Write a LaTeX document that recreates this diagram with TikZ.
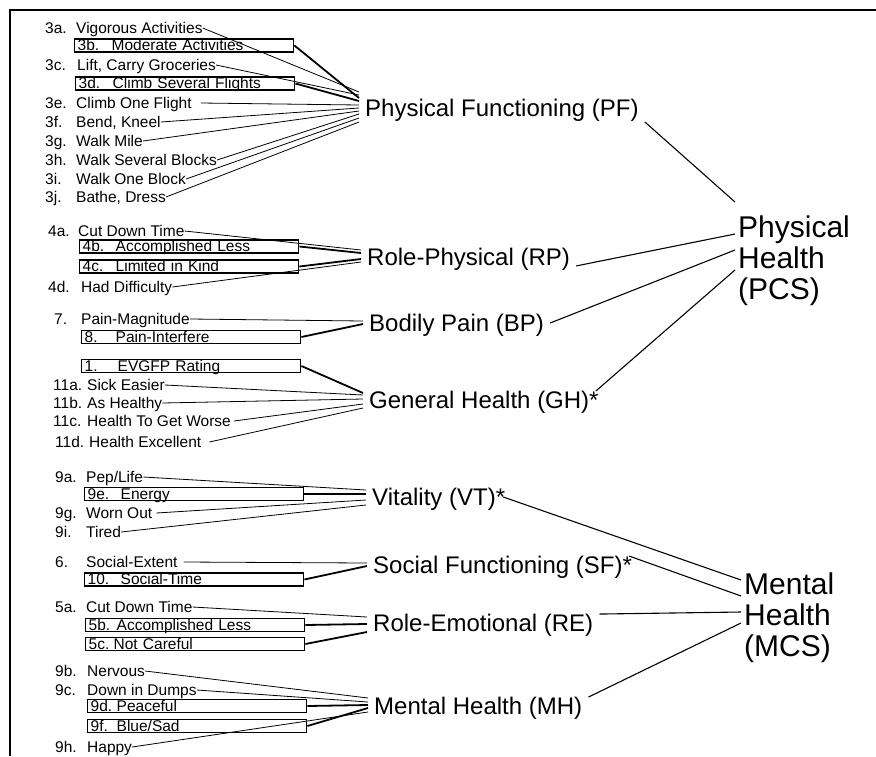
\documentclass[tikz,border=0pt]{standalone}
\usepackage{fontspec}
\setmainfont{Liberation Sans}
\usetikzlibrary{positioning}
\newcommand{\qno}[2][31pt]{\makebox[#1][l]{#2}} % item number column
\tikzset{
x=1pt, y=-1pt, % one unit per pixel, y pointing down
item/.style={anchor=west, inner sep=0pt, font=\fontsize{15.5}{19}\selectfont, text height=11.5pt, text depth=1.5pt}, % a questionnaire item
boxed/.style={item, draw, line width=1.4pt, inner xsep=3pt, text width=213pt, align=left}, % items drawn in a box
subscale/.style={anchor=west, inner xsep=6pt, inner ysep=0pt, font=\fontsize{24}{28}\selectfont, text height=17pt, text depth=0.5pt}, % the eight scales
summary/.style={anchor=north west, inner xsep=3pt, inner ysep=0pt, align=left, font=\fontsize{30}{31}\selectfont}, % the two summary measures
load/.style={line width=0.8pt}, % item to scale
heavyload/.style={line width=1.8pt}, % boxed item to scale
sumload/.style={line width=1.1pt}, % scale to summary
}
\begin{document}
\begin{tikzpicture}
\useasboundingbox (0,0) rectangle (876,756);
\draw[line width=2pt] (876,10) -- (10,10) -- (10,756);

% summary measures
\node[summary] (pcs) at (735,216) {Physical\\Health\\(PCS)};
\node[summary] (mcs) at (741,573) {Mental\\Health\\(MCS)};

% scales
\node[subscale] (pf) at (359,108) {Physical Functioning (PF)};
\node[subscale] (rp) at (361,257) {Role-Physical (RP)};
\node[subscale] (bp) at (363,323) {Bodily Pain (BP)};
\node[subscale] (gh) at (363,400) {General Health (GH)*};
\node[subscale] (vt) at (366,497) {Vitality (VT)*};
\node[subscale] (sf) at (367,565) {Social Functioning (SF)*};
\node[subscale] (re) at (367,623) {Role-Emotional (RE)};
\node[subscale] (mh) at (368,706) {Mental Health (MH)};

% physical functioning items
\node[item] (i3a) at (45,28) {\qno{3a.}Vigorous Activities};
\node[boxed] (i3b) at (74,45.5) {\qno[34pt]{3b.}Moderate Activities};
\node[item] (i3c) at (45,65) {\qno[32pt]{3c.}Lift, Carry Groceries};
\node[boxed] (i3d) at (75,83.5) {\qno[34pt]{3d.}Climb Several Flights};
\node[item] (i3e) at (45,103) {\qno{3e.}Climb One Flight};
\node[item] (i3f) at (45,122) {\qno{3f.}Bend, Kneel};
\node[item] (i3g) at (45,141) {\qno{3g.}Walk Mile};
\node[item] (i3h) at (45,160) {\qno{3h.}Walk Several Blocks};
\node[item] (i3i) at (45,179) {\qno{3i.}Walk One Block};
\node[item] (i3j) at (45,197) {\qno{3j.}Bathe, Dress};
\draw[load] (i3a.east) -- ([yshift=16pt]pf.west);
\draw[heavyload] (i3b.east) -- ([yshift=10pt]pf.west);
\draw[load] (i3c.east) -- ([yshift=13pt]pf.west);
\draw[heavyload] (i3d.east) -- ([yshift=7pt]pf.west);
\draw[load] ([xshift=9pt]i3e.east) -- ([yshift=3pt]pf.west);
\draw[load] (i3f.east) -- (pf.west);
\draw[load] (i3g.east) -- ([yshift=-3pt]pf.west);
\draw[load] (i3h.east) -- ([yshift=-6pt]pf.west);
\draw[load] (i3i.east) -- ([yshift=-10pt]pf.west);
\draw[load] (i3j.east) -- ([yshift=-14pt]pf.west);

% role-physical items
\node[item] (i4a) at (48,231) {\qno[30pt]{4a.}Cut Down Time};
\node[boxed] (i4b) at (79,246.5) {\qno[33pt]{4b.}Accomplished Less};
\node[boxed] (i4c) at (79,266.5) {\qno[33pt]{4c.}Limited in Kind};
\node[item] (i4d) at (48,287) {\qno[33pt]{4d.}Had Difficulty};
\draw[load] (i4a.east) -- ([yshift=7pt]rp.west);
\draw[heavyload] (i4b.east) -- ([yshift=4pt]rp.west);
\draw[heavyload] (i4c.east) -- ([yshift=-2pt]rp.west);
\draw[load] (i4d.east) -- ([yshift=-5pt]rp.west);

% bodily pain items
\node[item] (i7) at (54,319) {\qno[27pt]{7.}Pain-Magnitude};
\node[boxed] (i8) at (81,337) {\qno[31pt]{8.}Pain-Interfere};
\draw[load] (i7.east) -- ([yshift=2pt]bp.west);
\draw[heavyload] (i8.east) -- ([yshift=-1pt]bp.west);

% general health items
\node[boxed] (i1) at (81,366) {\qno[33pt]{1.}EVGFP Rating};
\node[item] (i11a) at (53,385) {\qno[34pt]{11a.}Sick Easier};
\node[item] (i11b) at (53,403) {\qno[34pt]{11b.}As Healthy};
\node[item] (i11c) at (53,421) {\qno[34pt]{11c.}Health To Get Worse};
\node[item] (i11d) at (55,442) {\qno[34pt]{11d.}Health Excellent};
\draw[heavyload] (i1.east) -- ([yshift=7pt]gh.west);
\draw[load] (i11a.east) -- ([yshift=5pt]gh.west);
\draw[load] (i11b.east) -- ([yshift=1pt]gh.west);
\draw[load] ([xshift=3pt]i11c.east) -- ([yshift=-4pt]gh.west);
\draw[load] ([xshift=8pt]i11d.east) -- ([yshift=-8pt]gh.west);

% vitality items
\node[item] (i9a) at (55,477) {\qno{9a.}Pep/Life};
\node[boxed] (i9e) at (84,494) {\qno[33pt]{9e.}Energy};
\node[item] (i9g) at (55,513) {\qno{9g.}Worn Out};
\node[item] (i9i) at (55,532) {\qno{9i.}Tired};
\draw[load] (i9a.east) -- ([yshift=7pt]vt.west);
\draw[heavyload] (i9e.east) -- ([yshift=3pt]vt.west);
\draw[load] ([xshift=4pt]i9g.east) -- ([yshift=-3pt]vt.west);
\draw[load] (i9i.east) -- ([yshift=-8pt]vt.west);

% social functioning items
\node[item] (i6) at (55,562) {\qno{6.}Social-Extent};
\node[boxed] (i10) at (84,579.5) {\qno[33pt]{10.}Social-Time};
\draw[load] ([xshift=6pt]i6.east) -- ([yshift=2pt]sf.west);
\draw[heavyload] (i10.east) -- ([yshift=-1pt]sf.west);

% role-emotional items
\node[item] (i5a) at (55,607) {\qno{5a.}Cut Down Time};
\node[boxed] (i5b) at (85,625) {\qno[28pt]{5b.}Accomplished Less};
\node[boxed] (i5c) at (85,644) {\qno[25pt]{5c.}Not Careful};
\draw[load] (i5a.east) -- ([yshift=6pt]re.west);
\draw[heavyload] (i5b.east) -- ([yshift=-1pt]re.west);
\draw[heavyload] (i5c.east) -- ([yshift=-9pt]re.west);

% mental health items
\node[item] (i9b) at (55,671) {\qno[32pt]{9b.}Nervous};
\node[item] (i9c) at (55,690) {\qno[32pt]{9c.}Down in Dumps};
\node[boxed] (i9d) at (87,706) {\qno[26pt]{9d.}Peaceful};
\node[boxed] (i9f) at (87,726) {\qno[26pt]{9f.}Blue/Sad};
\node[item] (i9h) at (55,747) {\qno[32pt]{9h.}Happy};
\draw[load] (i9b.east) -- ([yshift=8pt]mh.west);
\draw[load] (i9c.east) -- ([yshift=4pt]mh.west);
\draw[heavyload] (i9d.east) -- ([yshift=1pt]mh.west);
\draw[heavyload] (i9f.east) -- ([yshift=-2pt]mh.west);
\draw[load] (i9h.east) -- ([yshift=-6pt]mh.west);

% scales to summary measures
\draw[sumload] ([yshift=-5pt]pf.south east) -- ([yshift=14pt]pcs.north west);
\draw[sumload] (rp.south east) -- ([yshift=-18pt]pcs.north west);
\draw[sumload] (bp.east) -- ([yshift=-34pt]pcs.north west);
\draw[sumload] ([xshift=-9pt]gh.north east) -- ([yshift=-54pt]pcs.north west);
\draw[sumload] ([xshift=-8pt]vt.east) -- ([yshift=-7pt]mcs.north west);
\draw[sumload] ([xshift=-9pt]sf.north east) -- ([yshift=-23pt]mcs.north west);
\draw[sumload] (re.north east) -- ([yshift=-39pt]mcs.north west);
\draw[sumload] (mh.north east) -- ([yshift=-50pt]mcs.north west);
\end{tikzpicture}
\end{document}
